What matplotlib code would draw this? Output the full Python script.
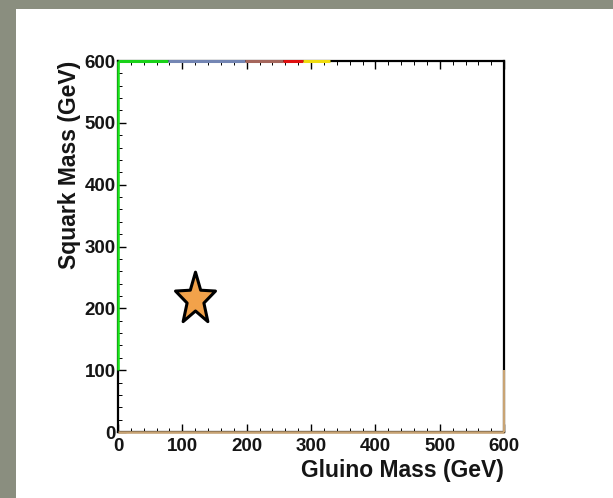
import numpy as np
import matplotlib
matplotlib.use("Agg")
import matplotlib.pyplot as plt
from matplotlib.path import Path
from matplotlib.patches import Rectangle

# benchmark point in the gluino/squark mass plane
gluino_point = [120]
squark_point = [215]

# excluded bands hugging the plot frame (GeV)
top_edges = [0, 78, 197, 256, 288, 330]
top_colors = ["#19d219", "#7486b4", "#a5665c", "#e01010", "#f0dc10"]
left_band = [100, 600]
bottom_band = [0, 600]
right_band = [0, 100]

ticks = [0, 100, 200, 300, 400, 500, 600]

plt.rcParams['font.family'] = ['Liberation Sans', 'DejaVu Sans']

fig = plt.figure(figsize=(6.13, 4.98), dpi=100)
fig.patch.set_facecolor("#8a8e7f")
fig.patches.append(Rectangle((16 / 613, 0), 1, 1 - 9 / 498, transform=fig.transFigure,
                             facecolor="white", edgecolor="none", zorder=-10))

ax = fig.add_axes([0.1925, 0.1325, 0.6300, 0.7450])
ax.set_zorder(1)
ax.set_xlim(0, 600)
ax.set_ylim(0, 600)

# coloured bands drawn over the frame
band = dict(solid_capstyle="butt", clip_on=False, zorder=6)
for i, c in enumerate(top_colors):
    ax.plot(top_edges[i:i + 2], [600, 600], color=c, lw=2.2, **band)
ax.plot([0, 0], left_band, color="#19e619", lw=1.8, **band)
ax.plot(bottom_band, [0, 0], color="#c9a474", lw=1.8, **band)
ax.plot([600, 600], right_band, color="#c9a474", lw=1.6, **band)

# star marker, a bit taller than wide
ang = np.pi / 2 + np.arange(10) * np.pi / 5
rad = np.where(np.arange(10) % 2 == 0, 1.0, 0.42)
verts = np.column_stack([rad * np.cos(ang), 1.3 * rad * np.sin(ang)])
verts = np.vstack([verts, verts[:1]])
star = Path(verts, closed=True)
ax.scatter(gluino_point, squark_point, marker=star, s=1550, facecolor="#f2a24a",
           edgecolor="black", linewidth=2.2, zorder=4)

ax.set_xticks(ticks)
ax.set_yticks(ticks)
ax.set_xticks(np.arange(0, 601, 20), minor=True)
ax.set_yticks(np.arange(0, 601, 20), minor=True)
ax.tick_params(which="both", direction="in", top=True, right=False, labelsize=13.5)
ax.tick_params(axis="x", pad=4)
ax.tick_params(axis="y", pad=1.5)
ax.tick_params(which="major", length=6, width=1)
ax.tick_params(which="minor", length=3, width=0.7)
for lab in ax.get_xticklabels() + ax.get_yticklabels():
    lab.set_fontweight("bold")
    lab.set_color("#151515")

for s in ax.spines.values():
    s.set_linewidth(1.6)

ax.set_xlabel("Gluino Mass (GeV)", fontsize=16.5, fontweight="bold", color="#151515",
              loc="right", labelpad=3)
ax.set_ylabel("Squark Mass (GeV)", fontsize=16.5, fontweight="bold", color="#151515",
              loc="top", labelpad=3)

fig.savefig("out.png", dpi=100, facecolor=fig.get_facecolor())
